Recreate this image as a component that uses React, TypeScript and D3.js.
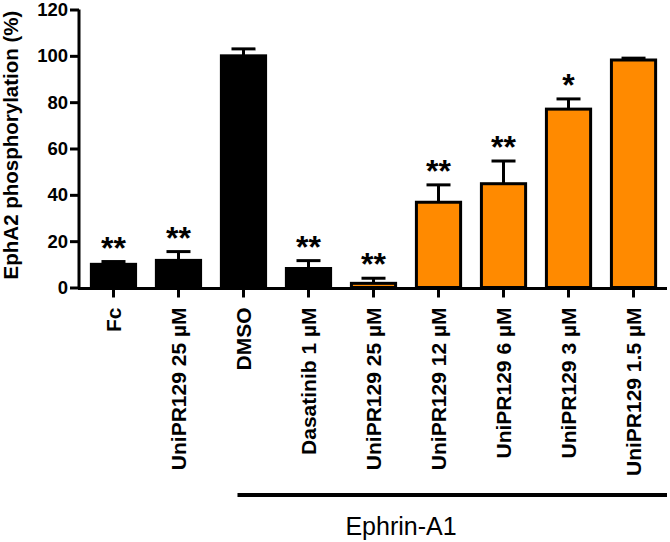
import React, { useEffect, useRef } from 'react';
import * as d3 from 'd3';

// data
const categories = [
  'Fc',
  'UniPR129 25 µM',
  'DMSO',
  'Dasatinib 1 µM',
  'UniPR129 25 µM ',
  'UniPR129 12 µM',
  'UniPR129 6 µM',
  'UniPR129 3 µM',
  'UniPR129 1.5 µM',
];
const values = [10, 11.7, 100, 8.2, 1.8, 36.8, 44.8, 77, 98.2];
const errors = [1.2, 3.8, 3, 3.4, 2.2, 7.5, 9.8, 4.4, 0.8];
const stars = ['**', '**', '', '**', '**', '**', '**', '*', ''];
const orangeGroup = [false, false, false, false, true, true, true, true, true];
const yTicks = [0, 20, 40, 60, 80, 100, 120];

const App = () => {
  const svgRef = useRef<SVGSVGElement>(null);

  useEffect(() => {
    const width = 670;
    const height = 542;
    const svg = d3.select(svgRef.current);
    svg.selectAll('*').remove();
    svg.attr('width', width).attr('height', height);

    const font = 'Arial, "Liberation Sans", sans-serif';

    const x = d3.scaleBand<string>()
      .domain(categories)
      .range([80, 667])
      .paddingInner(0.32)
      .paddingOuter(0.175);

    const y = d3.scaleLinear()
      .domain([0, 120])
      .range([287.5, 9.5]);

    // bars
    svg.append('g')
      .selectAll('rect')
      .data(categories)
      .enter()
      .append('rect')
      .attr('x', d => x(d)!)
      .attr('y', (d, i) => y(values[i]))
      .attr('width', x.bandwidth())
      .attr('height', (d, i) => y(0) - y(values[i]))
      .attr('fill', (d, i) => (orangeGroup[i] ? '#ff8a00' : '#000'))
      .attr('stroke', '#000')
      .attr('stroke-width', 3);

    // error bars (upper only)
    const err = svg.append('g').attr('stroke', '#000').attr('stroke-width', 3);
    categories.forEach((c, i) => {
      const cx = x(c)! + x.bandwidth() / 2;
      err.append('line')
        .attr('x1', cx).attr('x2', cx)
        .attr('y1', y(values[i])).attr('y2', y(values[i] + errors[i]));
      err.append('line')
        .attr('x1', cx - 12).attr('x2', cx + 12)
        .attr('y1', y(values[i] + errors[i])).attr('y2', y(values[i] + errors[i]));
    });

    // significance stars (glyph centre ~21px above the error cap)
    svg.append('g')
      .selectAll('text')
      .data(categories)
      .enter()
      .append('text')
      .attr('x', d => x(d)! + x.bandwidth() / 2)
      .attr('y', (d, i) => y(values[i] + errors[i]) - 21 + 18)
      .attr('text-anchor', 'middle')
      .attr('font-family', font)
      .attr('font-weight', 'bold')
      .attr('font-size', 32)
      .text((d, i) => stars[i]);

    // y axis
    const yAxis = svg.append('g')
      .attr('transform', 'translate(79,0)')
      .call(d3.axisLeft(y).tickValues(yTicks).tickSize(9).tickPadding(2));
    yAxis.select('.domain').attr('stroke-width', 3).attr('d', `M0,${y(120)}V${y(0) + 1.5}`);
    yAxis.selectAll('.tick line').attr('stroke-width', 3);
    yAxis.selectAll('.tick text')
      .attr('font-family', font)
      .attr('font-weight', 'bold')
      .attr('font-size', 18.5)
      .attr('fill', '#000');

    // x axis
    const xAxis = svg.append('g')
      .attr('transform', `translate(0,${y(0) + 1})`)
      .call(d3.axisBottom(x).tickSize(9).tickSizeOuter(0).tickPadding(11));
    xAxis.select('.domain').attr('stroke-width', 3).attr('d', `M78,0H667`);
    xAxis.selectAll('.tick line').attr('stroke-width', 3);
    xAxis.selectAll('.tick text')
      .attr('font-family', font)
      .attr('font-weight', 'bold')
      .attr('font-size', 21)
      .attr('fill', '#000')
      .attr('transform', 'rotate(-90)')
      .attr('text-anchor', 'end')
      .attr('dy', '0.35em')
      .attr('x', -19)
      .attr('y', 0);

    // y title
    svg.append('text')
      .attr('transform', `translate(18,145) rotate(-90)`)
      .attr('text-anchor', 'middle')
      .attr('font-family', font)
      .attr('font-weight', 'bold')
      .attr('font-size', 20.5)
      .text('EphA2 phosphorylation (%)');

    // Ephrin-A1 bracket
    const lineStart = x('DMSO')! + x.bandwidth() / 2 - 6;
    svg.append('line')
      .attr('x1', lineStart).attr('x2', 667)
      .attr('y1', 495).attr('y2', 495)
      .attr('stroke', '#000')
      .attr('stroke-width', 4);
    svg.append('text')
      .attr('x', 401)
      .attr('y', 535)
      .attr('text-anchor', 'middle')
      .attr('font-family', font)
      .attr('font-size', 25)
      .text('Ephrin-A1');
  }, []);

  return (
    <svg ref={svgRef} style={{ position: 'absolute', left: 0, top: 0, background: '#fff' }}></svg>
  );
};

export default App;
